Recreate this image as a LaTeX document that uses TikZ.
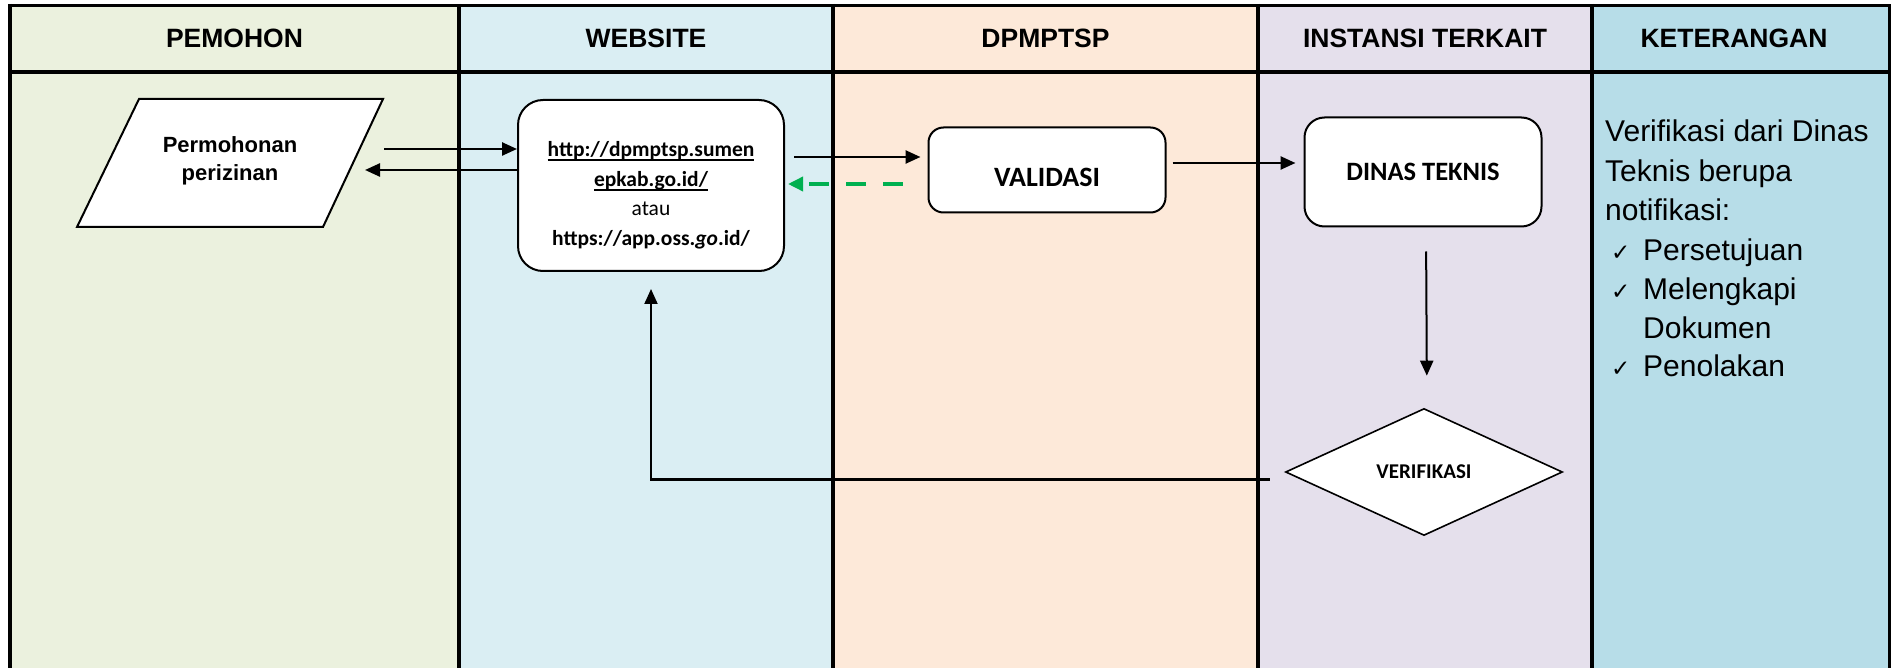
\documentclass[tikz,border=0pt]{standalone}
\usepackage{fontspec}
\setmainfont{Liberation Sans}
\newfontfamily\calfont{Carlito}
\newfontfamily\dvfont{DejaVu Sans}
\usetikzlibrary{arrows.meta,shapes.geometric}
\definecolor{cPem}{HTML}{EBF1DE}
\definecolor{cWeb}{HTML}{DAEEF3}
\definecolor{cDpm}{HTML}{FDE9D9}
\definecolor{cIns}{HTML}{E5E0EC}
\definecolor{cKet}{HTML}{B7DDE8}
\definecolor{cGreen}{HTML}{00B050}
\newcommand\myul[1]{\setbox0\hbox{#1}\rlap{\rule[-3.6pt]{\wd0}{1.8pt}}\box0}
\begin{document}
\begin{tikzpicture}[x=1pt,y=-1pt,
  hdr/.style={font=\fontsize{26.5}{30}\selectfont\bfseries, inner sep=0},
  vline/.style={line width=4pt},
  hline/.style={line width=3.2pt},
  rbox/.style={draw, line width=2pt, fill=white, inner sep=0},
  wt/.style={font=\calfont\bfseries\fontsize{21.5}{26}\selectfont, anchor=base, inner sep=0},
  ket/.style={font=\fontsize{30}{34}\selectfont, anchor=base west, inner sep=0},
  chk/.style={font=\dvfont\fontsize{23}{24}\selectfont, anchor=base west, inner sep=0},
  tip/.style={-{Triangle[length=15pt,width=13pt]}},
  arr/.style={line width=2.5pt, tip},
  varr/.style={line width=2pt, tip}]
\useasboundingbox (0,0) rectangle (1891,668);
% lanes
\fill[cPem] (10,5) rectangle (459,668);
\fill[cWeb] (459,5) rectangle (833,668);
\fill[cDpm] (833,5) rectangle (1258,668);
\fill[cIns] (1258,5) rectangle (1592,668);
\fill[cKet] (1592,5) rectangle (1890,668);
\draw[hline] (8,5.5) -- (1891,5.5);
\draw[hline] (8,72) -- (1891,72);
\foreach \xx in {10,459,833,1258,1592,1890} \draw[vline] (\xx,4) -- (\xx,668);
% headers
\node[hdr] (h1) at (234.5,38) {PEMOHON};
\node[hdr] (h2) at (646,38) {WEBSITE};
\node[hdr] (h3) at (1045.5,38) {DPMPTSP};
\node[hdr] (h4) at (1425,38) {INSTANSI TERKAIT};
\node[hdr] (h5) at (1734,38) {KETERANGAN};
% parallelogram
\draw[line width=2pt, fill=white] (139,99) -- (383,99) -- (323,227) -- (77,227) -- cycle;
\node[align=center, inner sep=0, font=\fontsize{22}{28}\selectfont\bfseries] (par) at (230,161) {Permohonan\\perizinan};
% website box
\node[rbox, rounded corners=25pt, minimum width=266pt, minimum height=171pt] (web) at (651,185.5) {};
\node[wt] (w1) at (651,157) {\myul{http://dpmptsp.sumen}};
\node[wt] (w2) at (651,187) {\myul{epkab.go.id/}};
\node[wt, font=\calfont\fontsize{21.5}{26}\selectfont] (w3) at (651,216) {atau};
\node[wt] (w4) at (651,246) {https://app.oss.\textit{go}.id/};
% validasi
\node[rbox, rounded corners=15pt, minimum width=237pt, minimum height=85pt] (val) at (1047,170) {};
\node[font=\calfont\bfseries\fontsize{28}{30}\selectfont, inner sep=0] (valt) at (1047,177) {VALIDASI};
% dinas teknis
\node[rbox, rounded corners=20pt, minimum width=237pt, minimum height=109pt, font=\calfont\bfseries\fontsize{26.5}{30}\selectfont] (din) at (1423,172) {DINAS TEKNIS};
% verifikasi
\node[draw, line width=1.6pt, fill=white, shape=diamond, aspect=2.2, inner sep=0, minimum width=277pt, minimum height=127pt, font=\calfont\bfseries\fontsize{21}{24}\selectfont] (ver) at (1424,472) {VERIFIKASI};
% connectors
\coordinate (pA) at (384,149);
\draw[arr] (pA) -- (pA -| web.west);
\coordinate (pB) at (365,170);
\draw[arr] (pB -| web.west) -- (pB);
\draw[arr, shorten <=9pt, shorten >=7pt] ([yshift=28.5pt]web.east) -- ([yshift=13pt]val.west);
\draw[line width=3.5pt, cGreen, dash pattern=on 20pt off 17pt, -{Triangle[length=15pt,width=14pt]}, shorten <=25pt, shorten >=3pt] ([yshift=-14pt]val.west) -- ([yshift=1.5pt]web.east);
\draw[arr, shorten <=6pt, shorten >=8pt] ([yshift=7pt]val.east) -- ([yshift=9pt]din.west);
\draw[varr, shorten <=24pt, shorten >=32pt] ([xshift=3pt]din.south) -- ([xshift=3pt]ver.north);
\coordinate (rs) at ([xshift=-15pt,yshift=-7pt]ver.west);
\coordinate (rc) at (web.south |- rs);
\draw[line width=3pt] (rs) -- ([xshift=-1pt]rc);
\draw[varr, shorten >=17pt] (rc) -- (web.south);
% keterangan
\node[ket] (k1) at (1605,142) {Verifikasi dari Dinas};
\node[ket] (k2) at (1605,181.5) {Teknis berupa};
\node[ket] (k3) at (1605,221) {notifikasi:};
\node[chk] (c1) at (1611,261) {✓};
\node[ket] (k4) at (1643,261) {Persetujuan};
\node[chk] (c2) at (1611,300) {✓};
\node[ket] (k5) at (1643,300) {Melengkapi};
\node[ket] (k6) at (1643,338.5) {Dokumen};
\node[chk] (c3) at (1611,377) {✓};
\node[ket] (k7) at (1643,377) {Penolakan};
\end{tikzpicture}
\end{document}
